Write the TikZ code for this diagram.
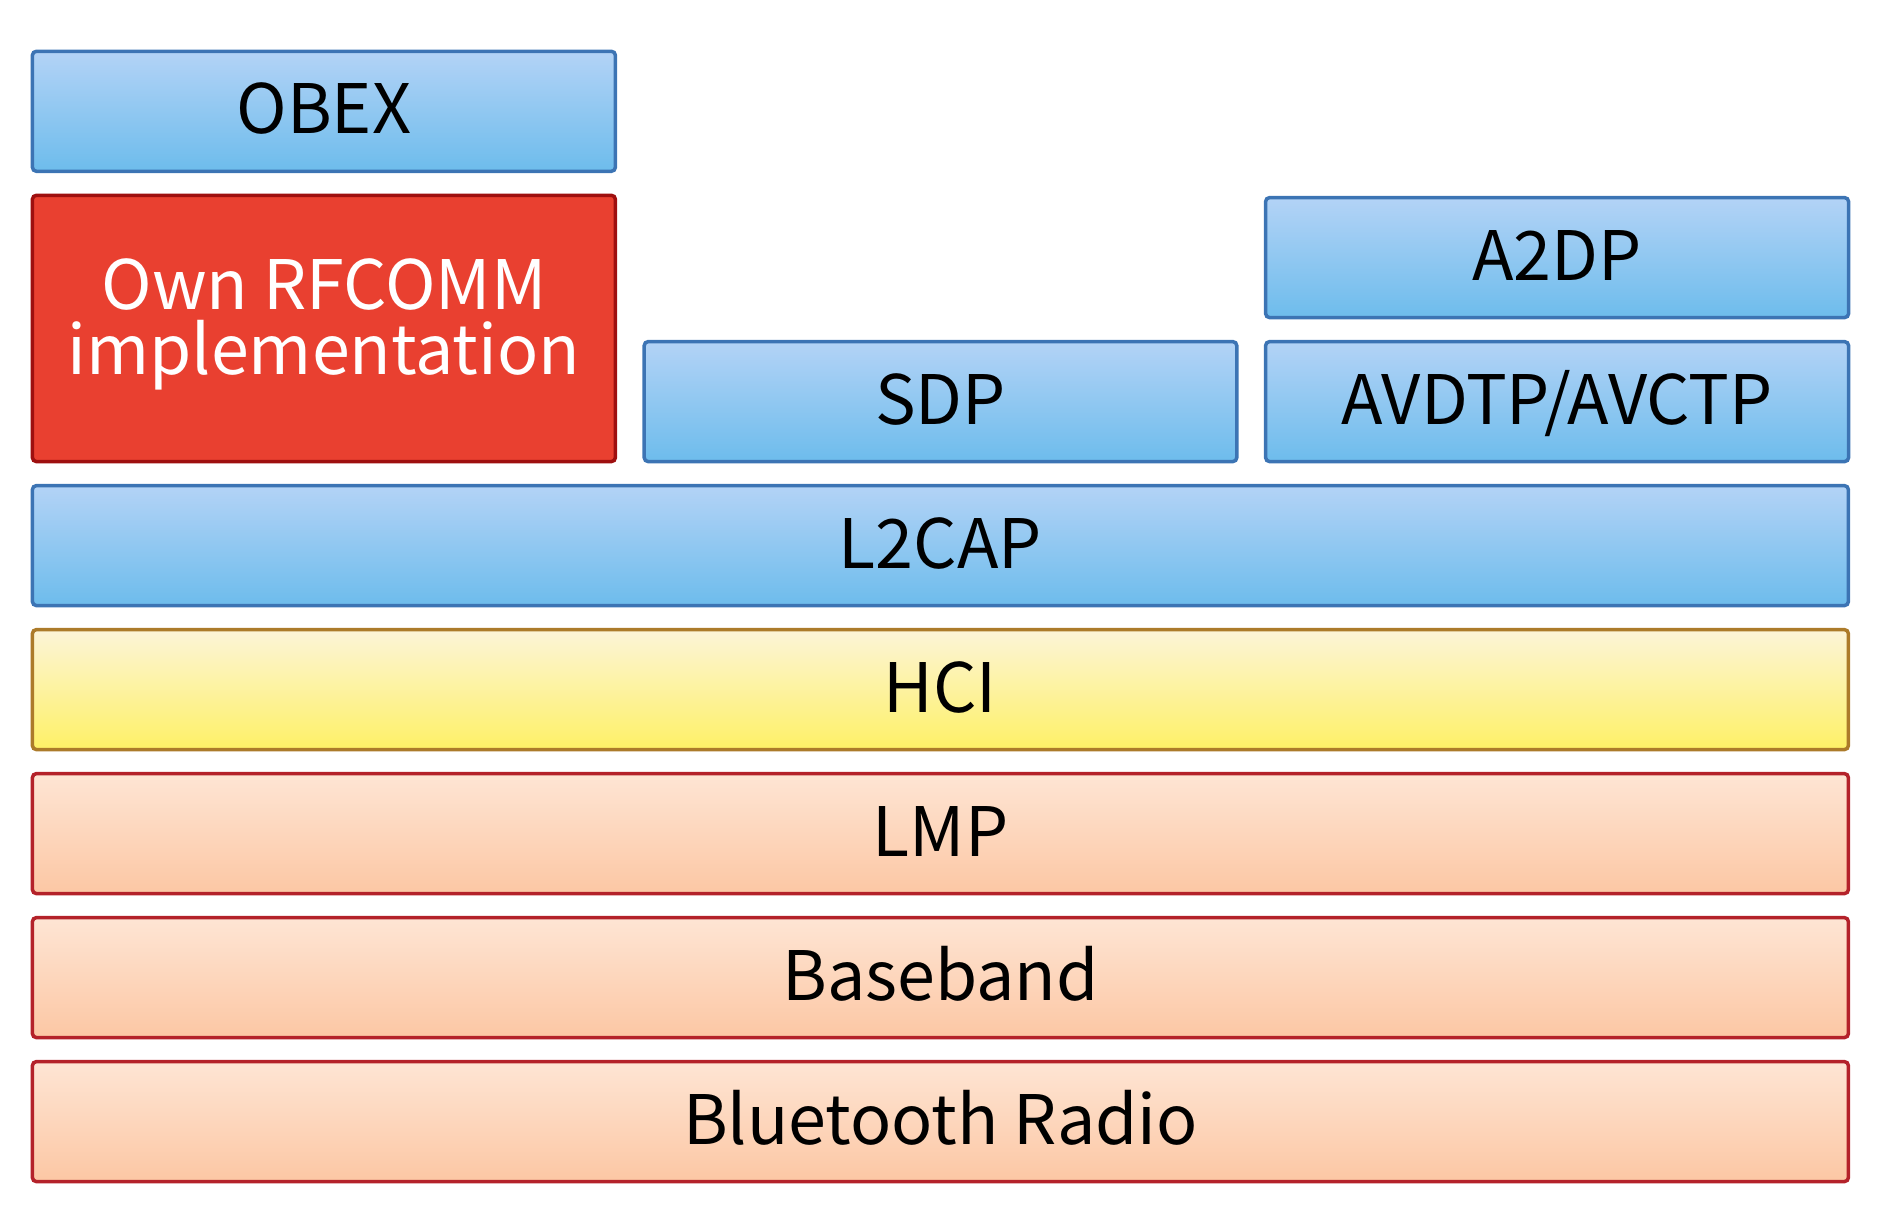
\documentclass[tikz,border=0pt]{standalone}
\usepackage{fontspec}
\setmainfont{Noto Sans CJK SC}
\usetikzlibrary{positioning}
\definecolor{bluetop}{HTML}{B3D3F6}
\definecolor{bluebot}{HTML}{6DBCEC}
\definecolor{blueline}{HTML}{3C74B4}
\definecolor{ownfill}{HTML}{E94030}
\definecolor{ownline}{HTML}{9E0F0F}
\definecolor{hcitop}{HTML}{FCF4D8}
\definecolor{hcibot}{HTML}{FEF166}
\definecolor{hciline}{HTML}{AC7B2A}
\definecolor{ctrltop}{HTML}{FEE5D4}
\definecolor{ctrlbot}{HTML}{FCC7A4}
\definecolor{ctrlline}{HTML}{B4222A}
\tikzset{
    %Define basic layer box
    layer/.style={
           rectangle,
           rounded corners=0.04cm,
           line width=0.035cm,
           inner sep=0pt,
           outer sep=0pt,
           minimum height=1.2cm,
           font=\fontsize{19.4}{18.4}\selectfont},
    % single line text, centred on the capitals
    oneline/.style={
           text height=0.45cm,
           text depth=0pt},
    % host side layers
    host/.style={
           layer, oneline,
           draw=blueline,
           top color=bluetop,
           bottom color=bluebot},
    % own implementation
    own/.style={
           layer,
           draw=ownline,
           fill=ownfill,
           text=white,
           align=center,
           text depth=0.24cm},
    % interface layer
    hcilayer/.style={
           layer, oneline,
           draw=hciline,
           top color=hcitop,
           bottom color=hcibot},
    % controller layers
    ctrl/.style={
           layer, oneline,
           draw=ctrlline,
           top color=ctrltop,
           bottom color=ctrlbot}
}
\begin{document}
\begin{tikzpicture}[node distance=0.24cm]
  \useasboundingbox (0,0) rectangle (18.81,-12.27);
  % controller
  \node[ctrl,minimum width=18.16cm,anchor=south west] (radio) at (0.324,-11.816) {Bluetooth Radio};
  \node[ctrl,minimum width=18.16cm,above=of radio] (baseband) {Baseband};
  \node[ctrl,minimum width=18.16cm,above=of baseband] (lmp) {LMP};
  % interface
  \node[hcilayer,minimum width=18.16cm,above=of lmp] (hci) {HCI};
  % host
  \node[host,minimum width=18.16cm,above=of hci] (l2cap) {L2CAP};
  \node[own,minimum width=5.83cm,minimum height=2.663cm,above=of l2cap.north west,anchor=south west] (rfcomm) {Own RFCOMM\\implementation};
  \node[host,minimum width=5.926cm,right=0.288cm of rfcomm.south east,anchor=south west] (sdp) {SDP};
  \node[host,minimum width=5.83cm,right=0.288cm of sdp] (avdtp) {AVDTP/AVCTP};
  \node[host,minimum width=5.83cm,above=of avdtp] (a2dp) {A2DP};
  \node[host,minimum width=5.83cm,above=of rfcomm] (obex) {OBEX};
\end{tikzpicture}
\end{document}
